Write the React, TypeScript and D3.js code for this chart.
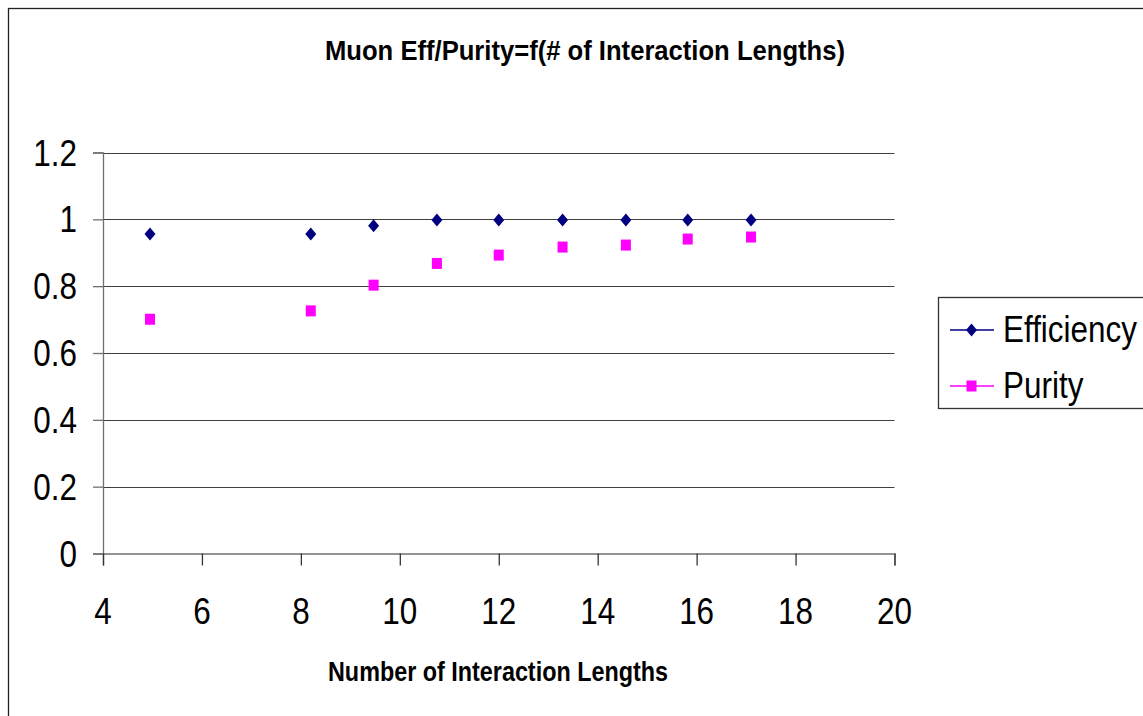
import React, { useEffect, useRef } from "react";
import * as d3 from "d3";

// x positions (number of interaction lengths)
const lengths = [4.95, 8.2, 9.47, 10.75, 12.0, 13.29, 14.57, 15.82, 17.1];
const efficiency = [0.956, 0.956, 0.981, 0.998, 0.998, 0.998, 0.998, 0.998, 0.998];
const purity = [0.701, 0.726, 0.803, 0.868, 0.893, 0.917, 0.923, 0.941, 0.947];
const xTicks = [4, 6, 8, 10, 12, 14, 16, 18, 20];
const yTicks = [0, 0.2, 0.4, 0.6, 0.8, 1, 1.2];
const seriesNames = ["Efficiency", "Purity"];
const seriesColors = ["#000080", "#ff00ff"];

const App = () => {
  const ref = useRef<SVGSVGElement>(null);

  useEffect(() => {
    const svg = d3.select(ref.current);
    svg.selectAll("*").remove();

    const x = d3.scaleLinear().domain([4, 20]).range([103, 894.5]);
    const y = d3.scaleLinear().domain([0, 1.2]).range([553.5, 152.5]);
    const font = "'Liberation Sans', Arial, sans-serif";
    const sx = 0.85;

    // outer chart frame (right/bottom edges run off the page)
    svg
      .append("rect")
      .attr("x", 8.5)
      .attr("y", 8.5)
      .attr("width", 1200)
      .attr("height", 800)
      .attr("fill", "#fff")
      .attr("stroke", "#222")
      .attr("stroke-width", 1.3);

    // gridlines
    svg
      .append("g")
      .selectAll("line")
      .data(yTicks.filter((d) => d > 0))
      .join("line")
      .attr("x1", x(4))
      .attr("x2", x(20))
      .attr("y1", (d) => Math.round(y(d)) + 0.5)
      .attr("y2", (d) => Math.round(y(d)) + 0.5)
      .attr("stroke", "#404040")
      .attr("stroke-width", 1.2);

    // y axis
    const yAxis = svg
      .append("g")
      .attr("transform", `translate(${x(4)},0)`)
      .call(d3.axisLeft(y).tickValues(yTicks).tickSize(10).tickFormat(() => ""));
    yAxis.select(".domain").attr("stroke", "#707070").attr("stroke-width", 1.3);
    yAxis.selectAll(".tick line").attr("stroke", "#707070").attr("stroke-width", 1.3);

    // x axis
    const xAxis = svg
      .append("g")
      .attr("transform", `translate(0,${y(0)})`)
      .call(d3.axisBottom(x).tickValues(xTicks).tickSize(12).tickSizeOuter(12).tickFormat(() => ""));
    xAxis.select(".domain").attr("stroke", "#707070").attr("stroke-width", 1.3);
    xAxis.selectAll(".tick line").attr("stroke", "#333").attr("stroke-width", 1.3);

    // tick labels (narrow Arial look)
    svg
      .append("g")
      .selectAll("text")
      .data(yTicks)
      .join("text")
      .attr("transform", (d) => `translate(77,${y(d) + 13}) scale(${sx},1)`)
      .attr("text-anchor", "end")
      .attr("font-family", font)
      .attr("font-size", 37)
      .attr("fill", "#000")
      .text((d) => d3.format("~g")(d));

    svg
      .append("g")
      .selectAll("text")
      .data(xTicks)
      .join("text")
      .attr("transform", (d) => `translate(${x(d)},624) scale(${sx},1)`)
      .attr("text-anchor", "middle")
      .attr("font-family", font)
      .attr("font-size", 37)
      .attr("fill", "#000")
      .text((d) => d);

    // title + axis title
    svg
      .append("text")
      .attr("x", 585)
      .attr("y", 60)
      .attr("text-anchor", "middle")
      .attr("font-family", font)
      .attr("font-weight", "bold")
      .attr("font-size", 27)
      .attr("textLength", 520)
      .attr("lengthAdjust", "spacingAndGlyphs")
      .text("Muon Eff/Purity=f(# of Interaction Lengths)");

    svg
      .append("text")
      .attr("x", 498)
      .attr("y", 681)
      .attr("text-anchor", "middle")
      .attr("font-family", font)
      .attr("font-weight", "bold")
      .attr("font-size", 27)
      .attr("textLength", 340)
      .attr("lengthAdjust", "spacingAndGlyphs")
      .text("Number of Interaction Lengths");

    const diamond = (cx: number, cy: number) =>
      `M${cx},${cy - 6.5}L${cx + 5.5},${cy}L${cx},${cy + 6.5}L${cx - 5.5},${cy}Z`;

    // efficiency markers
    svg
      .append("g")
      .selectAll("path")
      .data(lengths)
      .join("path")
      .attr("d", (d, i) => diamond(x(d), y(efficiency[i])))
      .attr("fill", seriesColors[0]);

    // purity markers
    svg
      .append("g")
      .selectAll("rect")
      .data(lengths)
      .join("rect")
      .attr("x", (d) => x(d) - 5)
      .attr("y", (d, i) => y(purity[i]) - 5.5)
      .attr("width", 10)
      .attr("height", 11)
      .attr("fill", seriesColors[1]);

    // legend
    const legend = svg.append("g");
    legend
      .append("rect")
      .attr("x", 938.5)
      .attr("y", 297.5)
      .attr("width", 300)
      .attr("height", 111)
      .attr("fill", "#fff")
      .attr("stroke", "#333")
      .attr("stroke-width", 1.3);

    const rows = [330, 386];
    seriesNames.forEach((name, i) => {
      const ly = rows[i];
      legend
        .append("line")
        .attr("x1", 950)
        .attr("x2", 994)
        .attr("y1", ly)
        .attr("y2", ly)
        .attr("stroke", seriesColors[i])
        .attr("stroke-width", 1.3);
      if (i === 0) {
        legend.append("path").attr("d", diamond(971.5, ly)).attr("fill", seriesColors[i]);
      } else {
        legend
          .append("rect")
          .attr("x", 966.5)
          .attr("y", ly - 5.5)
          .attr("width", 10)
          .attr("height", 11)
          .attr("fill", seriesColors[i]);
      }
      legend
        .append("text")
        .attr("transform", `translate(1003,${ly + 12}) scale(${sx},1)`)
        .attr("font-family", font)
        .attr("font-size", 37)
        .attr("fill", "#000")
        .text(name);
    });
  }, []);

  return (
    <svg
      ref={ref}
      width={1143}
      height={716}
      style={{ position: "absolute", left: 0, top: 0, display: "block" }}
    ></svg>
  );
};

export default App;
